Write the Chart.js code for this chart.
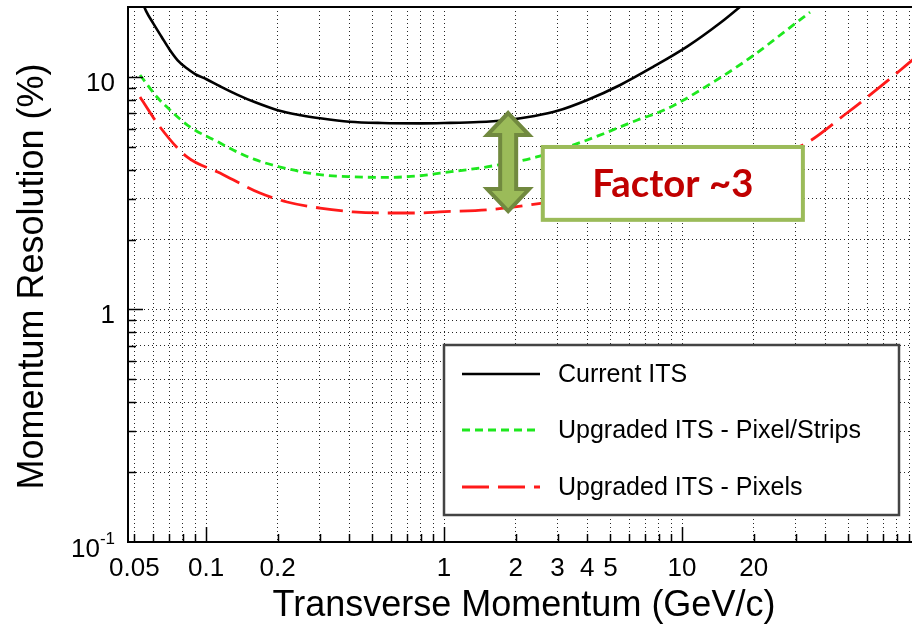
<!DOCTYPE html>
<html>
<head>
<meta charset="utf-8">
<title>Momentum resolution vs transverse momentum</title>
<script src="https://cdn.jsdelivr.net/npm/chart.js@4/dist/chart.umd.min.js"></script>
<style>
  html, body { margin: 0; padding: 0; background: #fff; overflow: hidden; }
  #wrap { width: 912px; height: 627px; overflow: hidden; position: relative; }
  canvas { display: block; }
</style>
</head>
<body>
<div id="wrap"><canvas id="chart" width="924" height="627" style="width:924px;height:627px"></canvas></div>
<script>
// ---- Series: transverse momentum (GeV/c) and momentum resolution (%) ----
const ptCurrent  = [0.053, 0.056, 0.060, 0.065, 0.070, 0.076, 0.083, 0.090, 0.100, 0.115, 0.135, 0.160, 0.200, 0.250, 0.300, 0.400, 0.550, 0.800, 1.00, 1.40, 1.80, 2.40, 3.00, 4.00, 5.50, 7.50, 10.5, 14.5, 17.5, 20.0];
const resCurrent = [22.0, 19.2, 17.0, 14.9, 13.2, 11.8, 10.9, 10.3, 9.8, 9.1, 8.4, 7.8, 7.2, 6.85, 6.65, 6.42, 6.34, 6.32, 6.34, 6.40, 6.52, 6.80, 7.15, 7.96, 9.24, 11.0, 13.5, 17.1, 20.0, 22.5];

const ptPixelStrips  = [0.0528, 0.0622, 0.0706, 0.0856, 0.1145, 0.130, 0.160, 0.205, 0.300, 0.414, 0.575, 0.790, 0.960, 1.50, 2.45, 4.00, 6.50, 8.65, 14.4, 20.0, 27.5, 34.5];
const resPixelStrips = [10.2, 8.2, 7.21, 6.10, 5.20, 4.85, 4.42, 4.10, 3.80, 3.72, 3.70, 3.76, 3.86, 4.10, 4.53, 5.36, 6.53, 7.30, 9.9, 12.4, 15.9, 19.0];

const ptPixels  = [0.0528, 0.064, 0.0832, 0.1145, 0.130, 0.1685, 0.219, 0.301, 0.414, 0.575, 0.792, 0.960, 1.51, 2.60, 5.0, 10.0, 20.0, 32.2, 49.3, 67.9, 88.1, 100];
const resPixels = [8.2, 6.1, 4.53, 3.86, 3.61, 3.17, 2.90, 2.73, 2.63, 2.60, 2.60, 2.63, 2.68, 2.87, 3.2, 3.7, 4.4, 5.1, 7.0, 9.06, 11.3, 12.6];

const seriesNames = ['Current ITS', 'Upgraded ITS - Pixel/Strips', 'Upgraded ITS - Pixels'];

// ---- Axes ----
const xRange = [0.047, 100];
const yRange = [0.1, 20];
const xTickValues = [0.05, 0.1, 0.2, 1, 2, 3, 4, 5, 10, 20];
const xTickLabels = ['0.05', '0.1', '0.2', '1', '2', '3', '4', '5', '10', '20'];
const yTickValues = [0.1, 1, 10];
const yTickBase   = ['10', '1', '10'];
const yTickExp    = ['-1', '', ''];
const xTitle = 'Transverse Momentum (GeV/c)';
const yTitle = 'Momentum Resolution (%)';

// ---- Annotation: improvement arrow and label ----
const arrowPt = 1.86, arrowLow = 2.65, arrowHigh = 7.0;
const boxPt = [2.6, 32.2], boxRes = [2.43, 5.0];
const factorText = 'Factor ~3';

// grid positions: every 1..9 multiple of each decade inside the range
function logGrid(min, max) {
  const out = [];
  for (let e = -3; e <= 3; e++) {
    for (let m = 1; m <= 9; m++) {
      const v = +(m * Math.pow(10, e)).toPrecision(3);
      if (v > min * 1.0001 && v < max * 0.9999) out.push(v);
    }
  }
  return out;
}
const xGrid = logGrid(xRange[0], xRange[1]);
const yGrid = logGrid(yRange[0], yRange[1]);
const isDecade = v => Math.abs(Math.log10(v) - Math.round(Math.log10(v))) < 1e-6;

const toPoints = (xs, ys) => xs.map((x, i) => ({ x, y: ys[i] }));

const FONT = '"Liberation Sans", Arial, Helvetica, sans-serif';

const styles = [
  { color: '#000000', width: 2.6, dash: [] },
  { color: '#1ee81e', width: 2.8, dash: [8, 5] },
  { color: '#ff1a1a', width: 2.8, dash: [27, 9] }
];

const decorations = {
  id: 'decorations',
  afterDatasetsDraw(chart) {
    const { ctx, chartArea: a, scales: { x, y } } = chart;
    ctx.save();

    // double arrow
    const ax = x.getPixelForValue(arrowPt);
    const yTop = y.getPixelForValue(arrowHigh);
    const yBot = y.getPixelForValue(arrowLow);
    const hw = 21, sw = 8, hh = 22;
    ctx.beginPath();
    ctx.moveTo(ax, yTop);
    ctx.lineTo(ax + hw, yTop + hh);
    ctx.lineTo(ax + sw, yTop + hh);
    ctx.lineTo(ax + sw, yBot - hh);
    ctx.lineTo(ax + hw, yBot - hh);
    ctx.lineTo(ax, yBot);
    ctx.lineTo(ax - hw, yBot - hh);
    ctx.lineTo(ax - sw, yBot - hh);
    ctx.lineTo(ax - sw, yTop + hh);
    ctx.lineTo(ax - hw, yTop + hh);
    ctx.closePath();
    ctx.fillStyle = '#9bbb59';
    ctx.fill();
    ctx.lineJoin = 'miter';
    ctx.lineWidth = 4;
    ctx.strokeStyle = '#71893f';
    ctx.stroke();

    // "Factor ~3" box
    const bx0 = x.getPixelForValue(boxPt[0]), bx1 = x.getPixelForValue(boxPt[1]);
    const by0 = y.getPixelForValue(boxRes[1]), by1 = y.getPixelForValue(boxRes[0]);
    ctx.fillStyle = '#ffffff';
    ctx.fillRect(bx0, by0, bx1 - bx0, by1 - by0);
    ctx.lineWidth = 4;
    ctx.strokeStyle = '#9bbb59';
    ctx.strokeRect(bx0, by0, bx1 - bx0, by1 - by0);
    ctx.font = 'bold 100px Lato, "Open Sans", sans-serif';
    const w100 = ctx.measureText(factorText).width;
    const fs = 100 * 161 / w100;
    ctx.font = `bold ${fs.toFixed(1)}px Lato, "Open Sans", sans-serif`;
    ctx.fillStyle = '#c00000';
    ctx.textAlign = 'center';
    ctx.textBaseline = 'alphabetic';
    ctx.fillText(factorText, (bx0 + bx1) / 2, (by0 + by1) / 2 + fs * 0.36);

    // legend
    const lx = a.left + 316, ly = a.top + 338, lw = 455, lh = 170;
    ctx.fillStyle = '#ffffff';
    ctx.fillRect(lx, ly, lw, lh);
    ctx.lineWidth = 2.5;
    ctx.strokeStyle = '#444444';
    ctx.strokeRect(lx, ly, lw, lh);
    const rowY = [ly + 29, ly + 85, ly + 142];
    ctx.font = `25px ${FONT}`;
    ctx.textAlign = 'left';
    ctx.textBaseline = 'middle';
    seriesNames.forEach((name, i) => {
      const st = styles[i];
      ctx.beginPath();
      ctx.setLineDash(st.dash);
      ctx.lineWidth = st.width;
      ctx.strokeStyle = st.color;
      ctx.moveTo(lx + 18, rowY[i]);
      ctx.lineTo(lx + 96, rowY[i]);
      ctx.stroke();
      ctx.setLineDash([]);
      ctx.fillStyle = '#000';
      ctx.fillText(name, lx + 114, rowY[i] + 1);
    });

    // frame
    ctx.lineWidth = 2;
    ctx.strokeStyle = '#000';
    ctx.strokeRect(a.left, a.top, a.right - a.left, a.bottom - a.top);

    // inward tick marks
    ctx.lineWidth = 1.5;
    ctx.beginPath();
    xGrid.forEach(v => {
      const px = Math.round(x.getPixelForValue(v)) + 0.5;
      const len = isDecade(v) ? 15 : 8;
      ctx.moveTo(px, a.bottom);
      ctx.lineTo(px, a.bottom - len);
    });
    yGrid.forEach(v => {
      const py = Math.round(y.getPixelForValue(v)) + 0.5;
      const len = isDecade(v) ? 15 : 8;
      ctx.moveTo(a.left, py);
      ctx.lineTo(a.left + len, py);
    });
    ctx.stroke();

    // tick labels
    ctx.fillStyle = '#000';
    ctx.font = `26px ${FONT}`;
    ctx.textAlign = 'center';
    ctx.textBaseline = 'alphabetic';
    xTickValues.forEach((v, i) => {
      ctx.fillText(xTickLabels[i], x.getPixelForValue(v), a.bottom + 34);
    });
    ctx.textAlign = 'right';
    yTickValues.forEach((v, i) => {
      const py = y.getPixelForValue(v);
      const right = a.left - 13;
      if (yTickExp[i]) {
        ctx.font = `17px ${FONT}`;
        const ew = ctx.measureText(yTickExp[i]).width;
        ctx.fillText(yTickExp[i], right, py + 2);
        ctx.font = `26px ${FONT}`;
        ctx.fillText(yTickBase[i], right - ew, py + 15);
      } else {
        ctx.font = `26px ${FONT}`;
        ctx.fillText(yTickBase[i], right, py + 14);
      }
    });

    // axis titles
    ctx.font = `36px ${FONT}`;
    ctx.textAlign = 'center';
    ctx.fillText(xTitle, (a.left + a.right) / 2, 616);
    ctx.save();
    ctx.translate(43, (a.top + a.bottom) / 2 + 2);
    ctx.rotate(-Math.PI / 2);
    ctx.fillText(yTitle, 0, 0);
    ctx.restore();

    ctx.restore();
  }
};

const series = [
  toPoints(ptCurrent, resCurrent),
  toPoints(ptPixelStrips, resPixelStrips),
  toPoints(ptPixels, resPixels)
];

const gridStyle = { color: 'rgba(0,0,0,0.85)', lineWidth: 1, drawTicks: false };

new Chart(document.getElementById('chart'), {
  type: 'line',
  data: {
    datasets: series.map((pts, i) => ({
      label: seriesNames[i],
      data: pts,
      borderColor: styles[i].color,
      borderWidth: styles[i].width,
      borderDash: styles[i].dash,
      pointRadius: 0,
      fill: false,
      cubicInterpolationMode: 'monotone',
      clip: 0
    }))
  },
  options: {
    responsive: false,
    animation: false,
    devicePixelRatio: 1,
    layout: { padding: { left: 128, right: 4, top: 7, bottom: 85 } },
    plugins: { legend: { display: false }, tooltip: { enabled: false } },
    scales: {
      x: {
        type: 'logarithmic',
        bounds: 'data',
        min: xRange[0],
        max: xRange[1],
        afterBuildTicks: s => { s.ticks = xGrid.map(v => ({ value: v })); },
        ticks: { display: false },
        grid: gridStyle,
        border: { display: false, dash: [1, 3] }
      },
      y: {
        type: 'logarithmic',
        bounds: 'data',
        min: yRange[0],
        max: yRange[1],
        afterBuildTicks: s => { s.ticks = yGrid.map(v => ({ value: v })); },
        ticks: { display: false },
        grid: gridStyle,
        border: { display: false, dash: [1, 3] }
      }
    }
  },
  plugins: [decorations]
});
</script>
</body>
</html>
